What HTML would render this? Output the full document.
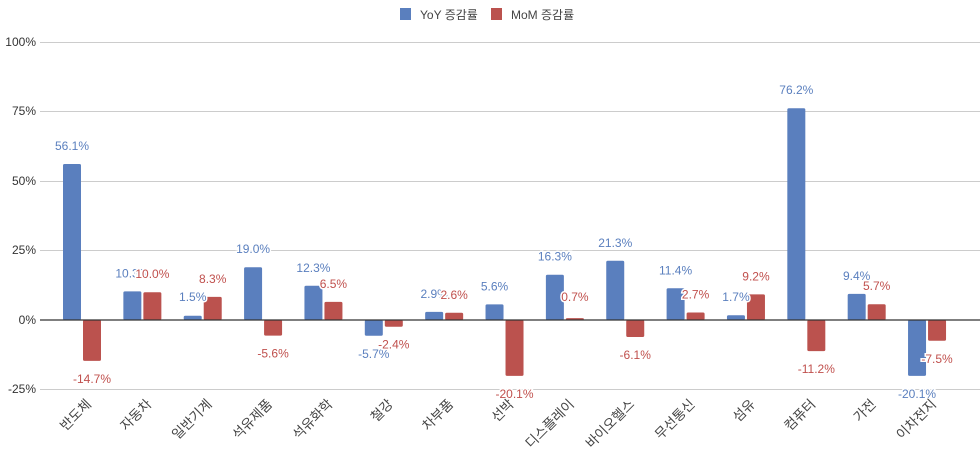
<!DOCTYPE html>
<html><head><meta charset="utf-8"><style>
body{margin:0;background:#fff}
svg{display:block;font-family:"Liberation Sans","Noto Sans CJK KR",sans-serif}
</style></head><body>
<svg id="c" width="980" height="452" xmlns="http://www.w3.org/2000/svg">
<rect width="980" height="452" fill="#fff"/>
<g font-size="12" fill="#333">
<text x="36" y="46" text-anchor="end">100%</text>
<text x="36" y="115" text-anchor="end">75%</text>
<text x="36" y="185" text-anchor="end">50%</text>
<text x="36" y="254" text-anchor="end">25%</text>
<text x="36" y="324" text-anchor="end">0%</text>
<text x="36" y="393" text-anchor="end">-25%</text>
</g>
<g stroke="#ccc" stroke-width="1">
<line x1="40" x2="980" y1="42.5" y2="42.5"/>
<line x1="40" x2="980" y1="111.5" y2="111.5"/>
<line x1="40" x2="980" y1="181.5" y2="181.5"/>
<line x1="40" x2="980" y1="250.5" y2="250.5"/>
<line x1="40" x2="980" y1="389.5" y2="389.5"/>
</g>
<rect x="400" y="8" width="11" height="12" fill="#5a7fbe"/>
<text x="420" y="19" font-size="12" fill="#444">YoY 증감률</text>
<rect x="491" y="8" width="11" height="12" fill="#bb524e"/>
<text x="511" y="19" font-size="12" fill="#444">MoM 증감률</text>
<g id="bars"></g>
<line x1="40" x2="980" y1="320" y2="320" stroke="#333" stroke-width="1.2"/>
<g id="lbl"></g>
</svg>
<script>
var cats=["반도체","자동차","일반기계","석유제품","석유화학","철강","차부품","선박","디스플레이","바이오헬스","무선통신","섬유","컴퓨터","가전","이차전지"];
var yoy=[56.1,10.3,1.5,19.0,12.3,-5.7,2.9,5.6,16.3,21.3,11.4,1.7,76.2,9.4,-20.1];
var mom=[-14.7,10.0,8.3,-5.6,6.5,-2.4,2.6,-20.1,0.7,-6.1,2.7,9.2,-11.2,5.7,-7.5];
var k=2.78,z=320,b="",l="";
function bar(x,v,c){var h=Math.abs(v)*k,y=v>=0?z-h:z;
 b+='<rect x="'+x+'" y="'+y.toFixed(1)+'" width="18" height="'+Math.max(h,1).toFixed(1)+'" rx="1.5" fill="'+c+'"/>';}
function lab(x,v,c){var h=Math.abs(v)*k,y=v>=0?Math.min(z-h,z-5)-14:z+h+22;
 l+='<text x="'+(x+9)+'" y="'+y.toFixed(1)+'" text-anchor="middle" font-size="12" fill="'+c+'" stroke="#fff" stroke-width="3" paint-order="stroke">'+v.toFixed(1)+'%</text>';}
for(var i=0;i<15;i++){var x=63+60.36*i;
 bar(x,yoy[i],"#5a7fbe");bar(x+20,mom[i],"#bb524e");}
for(var i=0;i<15;i++){var x=63+60.36*i;
 lab(x,yoy[i],"#5a7fbe");lab(x+20,mom[i],"#c0504d");
 var cx=x+29,cy=405;
 l+='<text x="'+cx+'" y="'+cy+'" text-anchor="end" font-size="13.5" fill="#444" transform="rotate(-45 '+cx+' '+cy+')">'+cats[i]+'</text>';}
document.getElementById("bars").innerHTML=b;
document.getElementById("lbl").innerHTML=l;
</script>
</body></html>
